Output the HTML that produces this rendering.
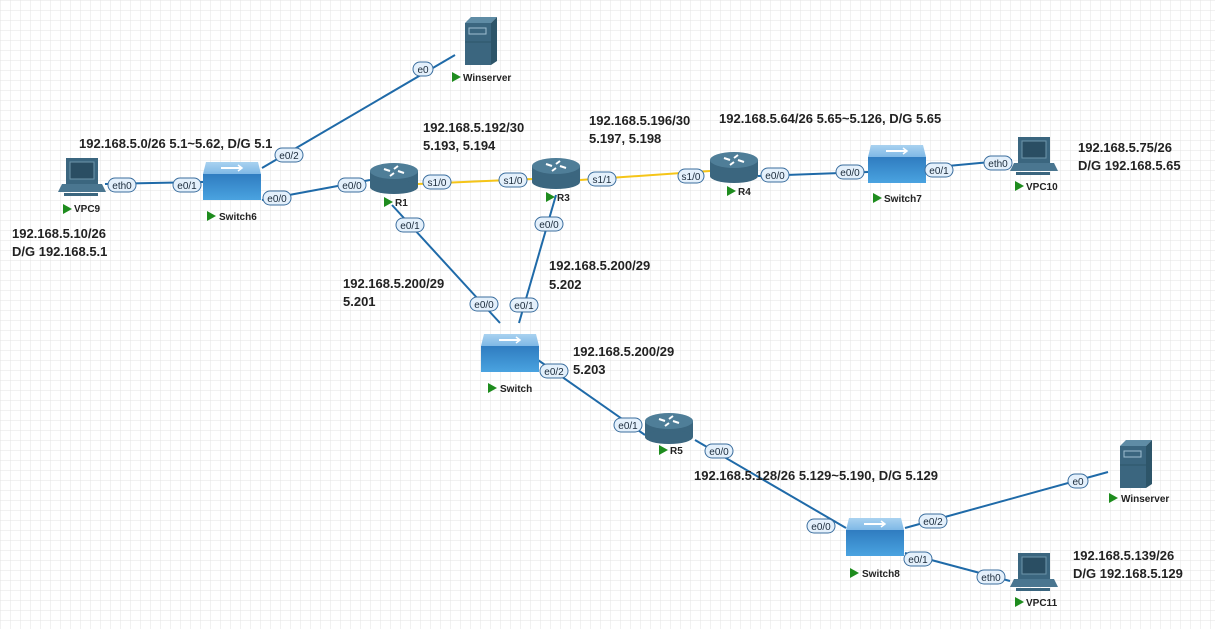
<!DOCTYPE html>
<html><head><meta charset="utf-8"><style>
html,body{margin:0;padding:0;background:#fff;}
svg{display:block;font-family:"Liberation Sans",Arial,sans-serif;}
.t{font-size:13px;font-weight:bold;fill:#222;}
.n{font-size:10px;font-weight:bold;fill:#222;}
.p{font-size:10px;fill:#1a2a3a;text-anchor:middle;}
.l{stroke:#1f6aa8;stroke-width:2;fill:none;}
.y{stroke:#f5c518;stroke-width:2;fill:none;}
</style></head><body>
<svg width="1215" height="629" viewBox="0 0 1215 629" xmlns="http://www.w3.org/2000/svg">
<defs>
<pattern id="g" width="10" height="10" patternUnits="userSpaceOnUse">
<path d="M10 0H0V10" fill="none" stroke="#e3e3e3" stroke-width="1"/></pattern>
<linearGradient id="sf" x1="0" y1="0" x2="0" y2="1"><stop offset="0" stop-color="#2f7cc0"/><stop offset="1" stop-color="#4aa3e0"/></linearGradient>
<linearGradient id="st" x1="0" y1="0" x2="0" y2="1"><stop offset="0" stop-color="#a9d2f0"/><stop offset="1" stop-color="#7fb8e6"/></linearGradient>
<g id="router">
<rect x="0" y="8" width="48" height="16" fill="#3b667f"/>
<ellipse cx="24" cy="24" rx="24" ry="7" fill="#3b667f"/>
<ellipse cx="24" cy="8" rx="24" ry="8" fill="#4f7e98"/>
<path d="M14 6l6 2M34 10l-6-2M28 3l-4 3M20 13l4-3" stroke="#fff" stroke-width="2"/>
</g>
<g id="switch">
<polygon points="3,0 55,0 58,12 0,12" fill="url(#st)"/>
<rect x="0" y="12" width="58" height="26" fill="url(#sf)"/>
<path d="M18 6h20" stroke="#fff" stroke-width="2"/><path d="M35 3l4 3-4 3" stroke="#fff" stroke-width="1.5" fill="none"/>
</g>
<g id="pc">
<rect x="8" y="0" width="32" height="26" fill="#3b667f"/>
<rect x="12" y="4" width="24" height="17" fill="#2a4e63" stroke="#6d95ab"/>
<polygon points="4,26 44,26 48,34 0,34" fill="#4a7690"/>
<rect x="6" y="35" width="34" height="3" fill="#3b667f"/>
</g>
<g id="srv">
<polygon points="0,6 6,0 32,0 26,6" fill="#5f8ca5"/>
<polygon points="26,6 32,0 32,44 26,48" fill="#2d5569"/>
<rect x="0" y="6" width="26" height="42" fill="#3b667f"/>
<rect x="4" y="11" width="17" height="6" fill="none" stroke="#9fbfd0"/>
<path d="M0 25h26" stroke="#2d5569"/>
</g>
<polygon id="tri" points="0,0 9,5 0,10" fill="#1e8c1e"/>
</defs>
<rect width="1215" height="629" fill="url(#g)"/>

<!-- links -->
<path class="l" d="M105 184L203 182"/>
<path class="l" d="M262 168L455 55"/>
<path class="l" d="M262 200L370 180"/>
<path class="y" d="M418 184L532 179"/>
<path class="y" d="M580 180L710 171"/>
<path class="l" d="M758 176L868 172"/>
<path class="l" d="M926 168L1012 160"/>
<path class="l" d="M392 205L500 323"/>
<path class="l" d="M556 195L519 323"/>
<path class="l" d="M538 360L645 435"/>
<path class="l" d="M695 440L846 528"/>
<path class="l" d="M905 528L1108 472"/>
<path class="l" d="M905 553L1010 581"/>

<!-- devices -->
<use href="#srv" x="465" y="17"/>
<use href="#pc" x="58" y="158"/>
<use href="#switch" x="203" y="162"/>
<use href="#router" x="370" y="163"/>
<use href="#router" x="532" y="158"/>
<use href="#router" x="710" y="152"/>
<use href="#switch" x="868" y="145"/>
<use href="#pc" x="1010" y="137"/>
<use href="#switch" x="481" y="334"/>
<use href="#router" x="645" y="413"/>
<use href="#switch" x="846" y="518"/>
<use href="#srv" x="1120" y="440"/>
<use href="#pc" x="1010" y="553"/>

<!-- device labels -->
<use href="#tri" x="452" y="72"/><text class="n" x="463" y="81">Winserver</text>
<use href="#tri" x="63" y="204"/><text class="n" x="74" y="212">VPC9</text>
<use href="#tri" x="207" y="211"/><text class="n" x="219" y="220">Switch6</text>
<use href="#tri" x="384" y="197"/><text class="n" x="395" y="206">R1</text>
<use href="#tri" x="546" y="192"/><text class="n" x="557" y="201">R3</text>
<use href="#tri" x="727" y="186"/><text class="n" x="738" y="195">R4</text>
<use href="#tri" x="873" y="193"/><text class="n" x="884" y="202">Switch7</text>
<use href="#tri" x="1015" y="181"/><text class="n" x="1026" y="190">VPC10</text>
<use href="#tri" x="488" y="383"/><text class="n" x="500" y="392">Switch</text>
<use href="#tri" x="659" y="445"/><text class="n" x="670" y="454">R5</text>
<use href="#tri" x="850" y="568"/><text class="n" x="862" y="577">Switch8</text>
<use href="#tri" x="1109" y="493"/><text class="n" x="1121" y="502">Winserver</text>
<use href="#tri" x="1015" y="597"/><text class="n" x="1026" y="606">VPC11</text>

<!-- port labels -->
<g fill="#e4f0fb" stroke="#3b6e9e" stroke-width="1">
<rect x="108" y="178" width="28" height="14" rx="7"/>
<rect x="173" y="178" width="28" height="14" rx="7"/>
<rect x="275" y="148" width="28" height="14" rx="7"/>
<rect x="263" y="191" width="28" height="14" rx="7"/>
<rect x="338" y="178" width="28" height="14" rx="7"/>
<rect x="423" y="175" width="28" height="14" rx="7"/>
<rect x="499" y="173" width="28" height="14" rx="7"/>
<rect x="588" y="172" width="28" height="14" rx="7"/>
<rect x="678" y="169" width="26" height="14" rx="7"/>
<rect x="761" y="168" width="28" height="14" rx="7"/>
<rect x="836" y="165" width="28" height="14" rx="7"/>
<rect x="925" y="163" width="28" height="14" rx="7"/>
<rect x="984" y="156" width="28" height="14" rx="7"/>
<rect x="413" y="62" width="20" height="14" rx="7"/>
<rect x="396" y="218" width="28" height="14" rx="7"/>
<rect x="535" y="217" width="28" height="14" rx="7"/>
<rect x="470" y="297" width="28" height="14" rx="7"/>
<rect x="510" y="298" width="28" height="14" rx="7"/>
<rect x="540" y="364" width="28" height="14" rx="7"/>
<rect x="614" y="418" width="28" height="14" rx="7"/>
<rect x="705" y="444" width="28" height="14" rx="7"/>
<rect x="807" y="519" width="28" height="14" rx="7"/>
<rect x="919" y="514" width="28" height="14" rx="7"/>
<rect x="904" y="552" width="28" height="14" rx="7"/>
<rect x="977" y="570" width="28" height="14" rx="7"/>
<rect x="1068" y="474" width="20" height="14" rx="7"/>
</g>
<g class="p">
<text x="122" y="189">eth0</text><text x="187" y="189">e0/1</text><text x="289" y="159">e0/2</text>
<text x="277" y="202">e0/0</text><text x="352" y="189">e0/0</text><text x="437" y="186">s1/0</text>
<text x="513" y="184">s1/0</text><text x="602" y="183">s1/1</text><text x="691" y="180">s1/0</text>
<text x="775" y="179">e0/0</text><text x="850" y="176">e0/0</text><text x="939" y="174">e0/1</text>
<text x="998" y="167">eth0</text><text x="423" y="73">e0</text><text x="410" y="229">e0/1</text>
<text x="549" y="228">e0/0</text><text x="484" y="308">e0/0</text><text x="524" y="309">e0/1</text>
<text x="554" y="375">e0/2</text><text x="628" y="429">e0/1</text><text x="719" y="455">e0/0</text>
<text x="821" y="530">e0/0</text><text x="933" y="525">e0/2</text><text x="918" y="563">e0/1</text>
<text x="991" y="581">eth0</text><text x="1078" y="485">e0</text>
</g>

<!-- annotations -->
<g class="t">
<text x="79" y="148">192.168.5.0/26 5.1~5.62, D/G 5.1</text>
<text x="12" y="238">192.168.5.10/26</text><text x="12" y="256">D/G 192.168.5.1</text>
<text x="423" y="132">192.168.5.192/30</text><text x="423" y="150">5.193, 5.194</text>
<text x="589" y="125">192.168.5.196/30</text><text x="589" y="143">5.197, 5.198</text>
<text x="719" y="123">192.168.5.64/26 5.65~5.126, D/G 5.65</text>
<text x="1078" y="152">192.168.5.75/26</text><text x="1078" y="170">D/G 192.168.5.65</text>
<text x="343" y="288">192.168.5.200/29</text><text x="343" y="306">5.201</text>
<text x="549" y="270">192.168.5.200/29</text><text x="549" y="289">5.202</text>
<text x="573" y="356">192.168.5.200/29</text><text x="573" y="374">5.203</text>
<text x="694" y="480">192.168.5.128/26 5.129~5.190, D/G 5.129</text>
<text x="1073" y="560">192.168.5.139/26</text><text x="1073" y="578">D/G 192.168.5.129</text>
</g>
</svg>
</body></html>
